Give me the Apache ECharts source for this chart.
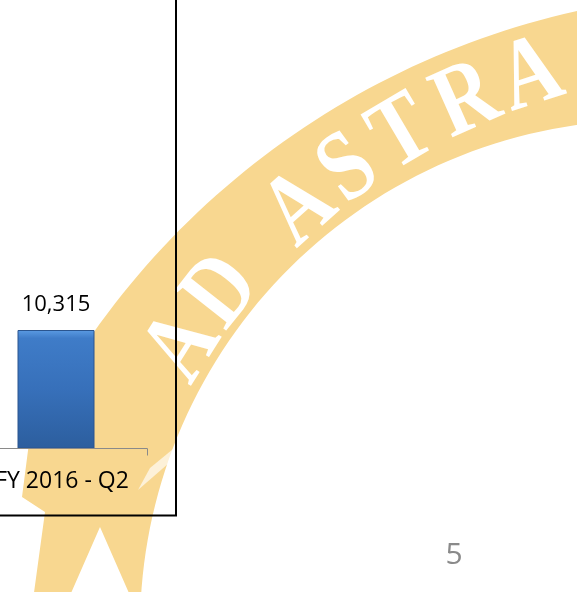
<!DOCTYPE html>
<html>
<head>
<meta charset="utf-8">
<script src="https://cdn.jsdelivr.net/npm/echarts@6/dist/echarts.min.js"></script>
<style>
html,body{margin:0;padding:0;background:#ffffff;}
#chart{width:577px;height:592px;}
</style>
</head>
<body>
<div id="chart"></div>
<script>
// ---- data ----
var categories = ['FY 2016 - Q2'];
var values = [10315];
var pageNumber = '5';
var watermarkLetters = ['A', 'D', 'A', 'S', 'T', 'R', 'A'];
var watermarkAnglesDeg = [57.8, 51.8, 41.7, 36.2, 30.5, 24.1, 18.0];

// ---- decoration geometry (watermark ribbon) ----
function arcPts(cx, cy, r, a0, a1, n) {
  var pts = [];
  for (var i = 0; i <= n; i++) {
    var a = (a0 + (a1 - a0) * i / n) * Math.PI / 180;
    pts.push([cx + r * Math.cos(a), cy + r * Math.sin(a)]);
  }
  return pts;
}
var outerEdge = arcPts(751, 797, 805, 259.2, 206.3, 60);
var tailPts = [[22, 497], [45, 512], [33, 600], [68, 600], [100, 527], [132, 600]];
var innerEdge = arcPts(648, 628, 508, 183.2, 264.6, 60);
var ribbon = outerEdge.concat(tailPts).concat(innerEdge);

var txtCx = 731, txtCy = 692, txtR = 646;

var graphics = [];
graphics.push({
  type: 'polygon',
  z: 0,
  silent: true,
  shape: { points: ribbon },
  style: { fill: '#F8D790' }
});
// light streak in the ribbon
graphics.push({
  type: 'polygon',
  z: 1,
  silent: true,
  shape: { points: [[184, 440], [177, 456], [138, 490], [150, 468]] },
  style: { fill: 'rgba(255,255,255,0.65)' }
});
watermarkLetters.forEach(function (ch, i) {
  var phi = watermarkAnglesDeg[i] * Math.PI / 180;
  graphics.push({
    type: 'text',
    z: 1,
    silent: true,
    x: txtCx - txtR * Math.sin(phi),
    y: txtCy - txtR * Math.cos(phi),
    rotation: phi,
    scaleX: 0.82,
    style: {
      text: ch,
      fill: '#ffffff',
      font: 'bold 100px "Liberation Serif", "DejaVu Serif", serif',
      align: 'center',
      verticalAlign: 'middle'
    }
  });
});
// chart frame
graphics.push({
  type: 'rect',
  z: 100,
  silent: true,
  shape: { x: -10, y: -10, width: 186, height: 525.5 },
  style: { fill: 'none', stroke: '#000000', lineWidth: 2 }
});
// page number
graphics.push({
  type: 'text',
  z: 100,
  silent: true,
  x: 454,
  y: 555,
  style: {
    text: pageNumber,
    fill: '#8a8a8a',
    font: '30px "Open Sans", sans-serif',
    align: 'center',
    verticalAlign: 'middle'
  }
});

var chart = echarts.init(document.getElementById('chart'), null, { renderer: 'canvas' });
chart.setOption({
  animation: false,
  backgroundColor: 'transparent',
  graphic: graphics,
  grid: { left: -35, width: 182, top: -11, bottom: 143.5, containLabel: false, outerBoundsMode: 'none' },
  xAxis: {
    type: 'category',
    data: categories,
    axisLine: { show: true, lineStyle: { color: '#8a8a8a', width: 1 } },
    axisTick: { show: true, length: 7, lineStyle: { color: '#8a8a8a' } },
    axisLabel: {
      color: '#000000',
      fontFamily: '"Open Sans", sans-serif',
      fontSize: 23,
      margin: 21,
      padding: [0, 0, 0, 12]
    },
    z: 3
  },
  yAxis: {
    type: 'value',
    min: 0,
    max: 40000,
    show: false,
    splitLine: { show: false }
  },
  series: [{
    type: 'bar',
    data: values,
    barWidth: 77,
    z: 2,
    itemStyle: {
      color: {
        type: 'linear', x: 0, y: 0, x2: 0, y2: 1,
        colorStops: [
          { offset: 0, color: '#5B9BE3' },
          { offset: 0.07, color: '#3F7CC8' },
          { offset: 0.5, color: '#3770BA' },
          { offset: 1, color: '#2C5E9E' }
        ]
      },
      borderColor: '#2A558F',
      borderWidth: 1
    },
    label: {
      show: true,
      position: 'top',
      distance: 14,
      color: '#000000',
      fontFamily: '"Open Sans", sans-serif',
      fontSize: 22,
      formatter: function (p) { return p.value.toLocaleString('en-US'); }
    }
  }]
});
</script>
</body>
</html>
